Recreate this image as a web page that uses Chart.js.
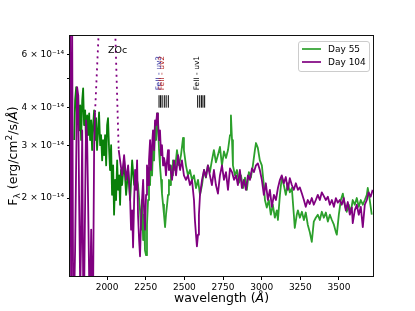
<!DOCTYPE html>
<html>
<head>
<meta charset="utf-8">
<script src="https://cdn.jsdelivr.net/npm/chart.js@4.4.1/dist/chart.umd.min.js"></script>
<style>
  html, body { margin: 0; padding: 0; background: #fff; }
  canvas { display: block; }
</style>
</head>
<body>
<canvas id="c" width="415" height="311"></canvas>
<script>
// Flux values in units of 1e-14 erg/cm^2/s/A
// Day 55, blue part
const wl55a = [
  1787,1793,1800,1806,1813,1819,1826,1832,1839,1845,
  1851,1858,1864,1871,1877,1884,1890,1897,1903,1910,
  1916,1922,1929,1935,1942,1948,1955,1961,1968,1974,
  1981,1987,1994,2000,2006,2013,2019,2026,2032,2039,
  2045,2052,2058,2065,2071,2078,2084,2090,2097,2110,
  2123,2136,2149,2162,2175,2187];
const flux55a = [
  3.12,4.23,4.68,3.63,4.40,3.36,4.07,3.12,4.23,4.64,
  3.50,3.92,3.00,3.77,3.24,3.83,3.12,3.63,2.89,3.50,
  3.92,3.12,3.69,2.89,3.36,3.86,3.00,3.24,2.67,3.12,
  2.78,3.24,2.57,3.50,3.69,2.89,2.48,3.00,2.05,2.57,
  1.76,2.30,1.97,2.67,2.13,2.38,1.90,2.48,2.21,2.67,
  2.05,2.48,1.97,2.67,2.21,2.38];
// Day 55, red part
const wl55b = [
  2187,2200,2213,2220,2226,2233,2239,2245,2252,2258,
  2265,2271,2278,2284,2291,2297,2304,2310,2317,2323,
  2329,2336,2342,2349,2355,2362,2368,2375,2381,2388,
  2394,2400,2407,2413,2420,2426,2439,2452,2465,2478,
  2491,2497,2510,2523,2536,2549,2562,2575,2588,2601,
  2614,2627,2639,2652,2665,2678,2691,2704,2717,2730,
  2743,2756,2769,2782,2795,2801,2808,2814,2827,2840,
  2853,2866,2879,2892,2904,2917,2930,2943,2956,2963,
  2975,2988,3001,3014,3021,3033,3046,3059,3072,3085,
  3098,3105,3118,3130,3143,3156,3169,3182,3195,3208,
  3214,3227,3234,3247,3260,3273,3285,3298,3311,3324,
  3337,3350,3363,3376,3389,3402,3415,3428,3441,3454,
  3467,3480,3486,3499,3512,3525,3537,3550,3563,3576,
  3589,3602,3615,3628,3641,3654,3667,3680,3686,3699,
  3712];
const flux55b = [
  2.38,2.21,1.82,1.57,1.97,1.45,1.76,1.34,1.29,1.63,
  1.97,2.53,2.21,2.89,2.38,3.00,2.67,3.50,3.12,3.83,
  3.50,2.89,2.57,2.30,2.07,1.90,1.76,1.60,1.76,1.90,
  2.05,2.30,2.21,2.57,2.38,2.67,2.48,2.89,2.57,2.78,
  3.17,2.89,2.57,2.38,2.48,2.30,2.38,2.16,2.30,2.05,
  2.21,2.48,2.34,2.57,2.44,2.67,2.89,2.63,2.78,2.96,
  2.57,2.86,2.72,2.89,3.24,3.77,3.12,2.57,2.38,2.48,
  2.25,2.38,2.16,2.34,2.13,2.44,2.34,2.57,2.89,3.05,
  2.94,2.67,2.57,2.21,1.97,1.86,1.97,1.76,1.90,1.72,
  1.82,1.69,2.05,2.35,2.21,2.05,2.24,2.09,2.16,1.76,
  1.59,1.76,1.82,1.72,1.80,1.69,1.79,1.63,1.54,1.43,
  1.67,1.72,1.76,1.69,1.80,1.72,1.79,1.67,1.76,1.69,
  1.63,1.54,1.51,1.76,1.97,2.07,1.90,1.80,1.90,1.79,
  1.97,1.90,2.00,1.87,1.97,1.90,1.97,2.05,2.16,1.97,
  1.76];
// Day 104
const wl104 = [
  1761,1767,1774,1780,1787,1793,1800,1806,1813,1819,
  1826,1832,1839,1845,1851,1858,1864,1871,1877,1884,
  1890,1897,1903,1910,1916,1922,1950,2050,2075,2084,
  2097,2110,2123,2136,2149,2155,2162,2168,2175,2181,
  2187,2194,2200,2207,2213,2220,2226,2233,2239,2245,
  2252,2258,2265,2271,2278,2284,2291,2297,2304,2310,
  2317,2323,2329,2336,2342,2349,2355,2362,2368,2375,
  2381,2388,2394,2400,2407,2420,2433,2446,2459,2472,
  2484,2497,2510,2523,2536,2549,2562,2568,2575,2581,
  2588,2594,2601,2614,2627,2639,2652,2665,2678,2691,
  2704,2717,2730,2743,2756,2769,2782,2795,2808,2821,
  2834,2846,2859,2872,2885,2898,2911,2924,2937,2950,
  2963,2975,2988,3001,3014,3027,3040,3053,3066,3079,
  3092,3105,3118,3130,3143,3156,3169,3182,3195,3208,
  3221,3234,3247,3260,3273,3285,3298,3311,3324,3337,
  3350,3363,3376,3389,3402,3415,3428,3441,3454,3467,
  3480,3492,3505,3518,3531,3544,3557,3570,3583,3589,
  3602,3615,3628,3641,3654,3667,3680,3692,3705,3718];
const flux104 = [
  7.23,0.99,7.50,1.07,0.92,1.34,2.67,4.68,4.40,1.97,
  0.99,1.45,3.36,1.07,0.92,1.97,3.63,3.12,1.97,1.07,
  0.92,1.57,0.92,1.07,2.89,3.86,8.00,8.00,2.89,2.67,
  2.38,2.78,2.30,2.57,1.97,1.57,1.82,1.37,1.97,2.48,
  2.13,2.67,1.76,1.45,1.28,1.69,1.97,2.30,1.82,1.57,
  2.05,2.57,2.21,2.67,3.12,2.48,3.00,3.36,2.89,3.63,
  3.50,3.83,3.63,3.12,3.36,2.78,3.00,2.57,2.72,2.61,
  2.38,2.67,2.89,2.48,2.57,2.30,2.67,2.38,2.78,2.48,
  2.67,2.38,2.30,2.38,2.21,2.30,1.97,1.69,1.51,1.38,
  1.51,1.76,2.05,2.30,2.48,2.35,2.57,2.38,2.21,2.48,
  2.21,2.07,2.38,2.57,2.30,2.44,2.13,2.51,2.44,2.30,
  2.38,2.21,2.48,2.16,2.30,2.13,2.38,2.30,2.51,2.44,
  2.57,2.61,2.48,2.30,2.05,2.24,1.97,2.13,1.87,2.05,
  1.97,2.16,2.30,2.38,2.24,2.35,2.13,2.33,2.21,2.13,
  2.24,2.13,2.17,2.07,1.97,1.87,1.97,1.91,2.00,1.90,
  1.97,2.05,1.97,2.09,2.03,1.97,2.02,1.90,1.97,1.87,
  2.00,1.93,1.97,1.90,2.00,1.82,1.94,1.76,1.86,1.65,
  1.82,1.90,1.76,1.87,1.60,1.90,1.97,2.09,2.02,2.13];

// FeII line markers
const feUV23 = [2336, 2346, 2356, 2370, 2382, 2396];
const feUV1 = [2586, 2599, 2610, 2620, 2631];
const feMarkRange = [4.0, 4.4];

const xTicks = [2000, 2250, 2500, 2750, 3000, 3250, 3500];
const yTicks = [2, 3, 4, 5, 6];
const yTickLabels = ['2 × 10⁻¹⁴', '3 × 10⁻¹⁴', '4 × 10⁻¹⁴', '', '6 × 10⁻¹⁴'];

const textLabels = [
  { text: 'ZOc', x: 2006, y: 6.2, color: '#000000', rot: false },
  { text: 'FeII - uv3', x: 2333, y: 4.57, color: '#26269a', rot: true },
  { text: 'FeII - uv2', x: 2355, y: 4.57, color: '#b52828', rot: true },
  { text: 'FeII - uv1', x: 2581, y: 4.57, color: '#000000', rot: true }
];
const legendItems = [
  { label: 'Day 55', color: '#2ca02c' },
  { label: 'Day 104', color: '#800080' }
];

function pairs(xs, ys) { return xs.map((v, i) => ({ x: v, y: ys[i] })); }
function markLines(ws) {
  const out = [];
  ws.forEach(w => { out.push({ x: w, y: feMarkRange[0] }, { x: w, y: feMarkRange[1] }, { x: w, y: null }); });
  return out;
}

const FONT = "'DejaVu Sans', 'Liberation Sans', sans-serif";

function drawMixed(ctx, parts, cx, cy) {
  let total = 0;
  parts.forEach(p => {
    ctx.font = (p.italic ? 'italic ' : '') + p.size + 'px ' + FONT;
    p.w = ctx.measureText(p.t).width;
    total += p.w;
  });
  let x = cx - total / 2;
  ctx.textAlign = 'left';
  ctx.textBaseline = 'alphabetic';
  parts.forEach(p => {
    ctx.font = (p.italic ? 'italic ' : '') + p.size + 'px ' + FONT;
    ctx.fillText(p.t, x, cy + (p.dy || 0));
    x += p.w;
  });
}

const decor = {
  id: 'decor',
  afterDraw(chart) {
    const { ctx, chartArea: a, scales: { x, y } } = chart;
    ctx.save();
    ctx.strokeStyle = '#111';
    ctx.lineWidth = 1;
    ctx.strokeRect(Math.round(a.left) - 0.5, Math.round(a.top) - 0.5,
      Math.round(a.right - a.left) + 1, Math.round(a.bottom - a.top) + 1);

    textLabels.forEach(l => {
      const px = x.getPixelForValue(l.x), py = y.getPixelForValue(l.y);
      ctx.fillStyle = l.color;
      if (l.rot) {
        ctx.save();
        ctx.translate(px, py);
        ctx.rotate(-Math.PI / 2);
        ctx.font = '7.5px ' + FONT;
        ctx.textAlign = 'left';
        ctx.textBaseline = 'middle';
        ctx.fillText(l.text, 0, 0);
        ctx.restore();
      } else {
        ctx.font = '9.5px ' + FONT;
        ctx.textAlign = 'left';
        ctx.textBaseline = 'middle';
        ctx.fillText(l.text, px, py);
      }
    });

    const bx = a.right - 75, by = a.top + 5, bw = 71, bh = 30;
    ctx.beginPath();
    if (ctx.roundRect) ctx.roundRect(bx + 0.5, by + 0.5, bw, bh, 2.5); else ctx.rect(bx + 0.5, by + 0.5, bw, bh);
    ctx.fillStyle = 'rgba(255,255,255,0.8)';
    ctx.fill();
    ctx.strokeStyle = '#cccccc';
    ctx.lineWidth = 1;
    ctx.stroke();
    legendItems.forEach((it, i) => {
      const yy = by + 8 + i * 13;
      ctx.beginPath();
      ctx.moveTo(bx + 4, yy);
      ctx.lineTo(bx + 23, yy);
      ctx.strokeStyle = it.color;
      ctx.lineWidth = 1.7;
      ctx.stroke();
      ctx.fillStyle = '#000';
      ctx.font = '9px ' + FONT;
      ctx.textAlign = 'left';
      ctx.textBaseline = 'middle';
      ctx.fillText(it.label, bx + 30, yy + 0.5);
    });

    ctx.fillStyle = '#000';
    drawMixed(ctx, [
      { t: 'wavelength (', size: 12.5 },
      { t: 'Å', size: 12.5, italic: true },
      { t: ')', size: 12.5 }
    ], (a.left + a.right) / 2, 302);

    ctx.save();
    ctx.translate(17, (a.top + a.bottom) / 2);
    ctx.rotate(-Math.PI / 2);
    drawMixed(ctx, [
      { t: 'F', size: 12.5 },
      { t: 'λ', size: 9, dy: 3 },
      { t: ' (erg/cm', size: 12.5 },
      { t: '2', size: 9, dy: -5 },
      { t: '/s/', size: 12.5 },
      { t: 'Å', size: 12.5, italic: true },
      { t: ')', size: 12.5 }
    ], 0, 0);
    ctx.restore();
    ctx.restore();
  }
};

const dashAbove = c => (c.p0.parsed.y > 7.8 || c.p1.parsed.y > 7.8) ? [2, 4] : undefined;

new Chart(document.getElementById('c'), {
  type: 'line',
  data: {
    datasets: [
      { label: 'FeII uv2/uv3', data: markLines(feUV23), borderColor: '#000', borderWidth: 1, pointRadius: 0, spanGaps: false, order: 0 },
      { label: 'FeII uv1', data: markLines(feUV1), borderColor: '#000', borderWidth: 1, pointRadius: 0, spanGaps: false, order: 0 },
      { label: 'Day 104', data: pairs(wl104, flux104), borderColor: '#800080', borderWidth: 1.8, pointRadius: 0, order: 1,
        segment: { borderDash: dashAbove } },
      { label: 'Day 55', data: pairs(wl55b, flux55b), borderColor: '#2ca02c', borderWidth: 1.8, pointRadius: 0, order: 2 },
      { label: 'Day 55 (blue)', data: pairs(wl55a, flux55a), borderColor: '#0a800a', borderWidth: 1.8, pointRadius: 0, order: 3 }
    ]
  },
  options: {
    responsive: false,
    animation: false,
    devicePixelRatio: 1,
    layout: { padding: { top: 36, right: 42, left: 0, bottom: 0 } },
    plugins: { legend: { display: false }, tooltip: { enabled: false } },
    elements: { line: { tension: 0, borderJoinStyle: 'round' }, point: { radius: 0 } },
    scales: {
      x: {
        type: 'linear', min: 1760, max: 3720,
        afterBuildTicks: s => { s.ticks = xTicks.map(v => ({ value: v })); },
        afterFit: s => { s.height = 35; },
        grid: { display: true, drawOnChartArea: false, drawTicks: true, tickLength: 4, color: '#000' },
        border: { display: false },
        ticks: { font: { family: FONT, size: 9 }, color: '#000', padding: 2, maxRotation: 0, autoSkip: false,
          callback: v => String(v) }
      },
      y: {
        type: 'logarithmic', min: 1.1, max: 6.93,
        afterBuildTicks: s => { s.ticks = yTicks.map(v => ({ value: v })); },
        afterFit: s => { s.width = 70; },
        grid: { display: true, drawOnChartArea: false, drawTicks: true, tickLength: 3, color: '#000' },
        border: { display: false },
        ticks: { font: { family: FONT, size: 9 }, color: '#000', padding: 3, autoSkip: false,
          callback: v => { const i = yTicks.indexOf(v); return i >= 0 ? yTickLabels[i] : ''; } }
      }
    }
  },
  plugins: [decor]
});
</script>
</body>
</html>
